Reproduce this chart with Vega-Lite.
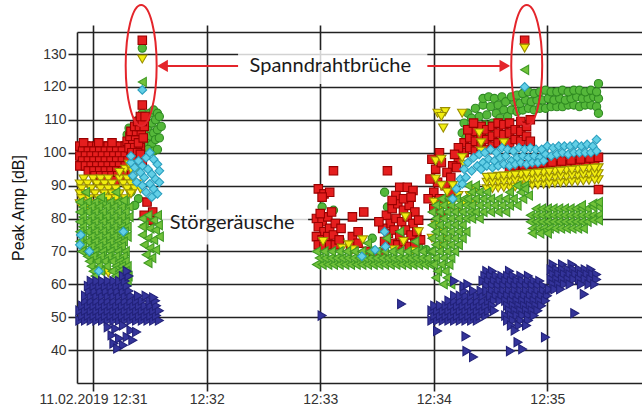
{
"$schema":"https://vega.github.io/schema/vega-lite/v6.json",
"width":565,"height":351,
"autosize":{"type":"none"},
"padding":{"left":77,"top":32,"right":0,"bottom":26},
"background":"white",
"config":{"view":{"stroke":null}},
"datasets":{
"red":[
{"t":53,"a":102},{"t":56,"a":102},{"t":59,"a":102},{"t":62,"a":102},{"t":65,"a":102},{"t":68,"a":102},{"t":71,"a":102},{"t":74,"a":102},{"t":77,"a":102},
{"t":55,"a":103},{"t":63,"a":103},{"t":70,"a":103},
{"t":54.5,"a":100.5},{"t":57.5,"a":100.5},{"t":60.5,"a":100.5},{"t":63.5,"a":100.5},{"t":66.5,"a":100.5},{"t":69.5,"a":100.5},{"t":72.5,"a":100.5},{"t":75.5,"a":100.5},
{"t":53,"a":99},{"t":56,"a":99},{"t":59,"a":99},{"t":62,"a":99},{"t":65,"a":99},{"t":68,"a":99},{"t":71,"a":99},{"t":74,"a":99},{"t":77,"a":99},{"t":80,"a":99},
{"t":54.5,"a":97.5},{"t":57.5,"a":97.5},{"t":60.5,"a":97.5},{"t":63.5,"a":97.5},{"t":66.5,"a":97.5},{"t":69.5,"a":97.5},{"t":72.5,"a":97.5},{"t":75.5,"a":97.5},{"t":78.5,"a":97.5},{"t":81.5,"a":97.5},
{"t":53,"a":96},{"t":56,"a":96},{"t":59,"a":96},{"t":62,"a":96},{"t":65,"a":96},{"t":68,"a":96},{"t":71,"a":96},{"t":74,"a":96},{"t":77,"a":96},{"t":80,"a":96},
{"t":57.5,"a":94.5},{"t":60.5,"a":94.5},{"t":63.5,"a":94.5},{"t":66.5,"a":94.5},{"t":69.5,"a":94.5},{"t":72.5,"a":94.5},{"t":75.5,"a":94.5},{"t":78.5,"a":94.5},
{"t":61,"a":93},{"t":64,"a":93},{"t":67,"a":93},{"t":70,"a":93},{"t":73,"a":93},{"t":76,"a":93},
{"t":65.5,"a":91.5},{"t":71.5,"a":91.5},
{"t":78,"a":103.5},{"t":81,"a":103.5},{"t":79.5,"a":105},{"t":82.5,"a":105},{"t":80,"a":106.5},{"t":83,"a":106.5},{"t":85.5,"a":106.5},{"t":82,"a":108},{"t":84.5,"a":108},{"t":87,"a":108},{"t":83.5,"a":109.5},{"t":86,"a":109.5},{"t":85,"a":111},{"t":87.5,"a":111},{"t":79,"a":101.5},{"t":82,"a":101.5},{"t":85,"a":101.5},{"t":80.5,"a":100},{"t":83.5,"a":100},{"t":84,"a":103},{"t":83,"a":98},{"t":85,"a":99.5},{"t":86,"a":97},{"t":86.5,"a":104.5},
{"t":86,"a":134.2},{"t":86,"a":114.5},{"t":87,"a":81},{"t":90,"a":79.5},{"t":91.5,"a":82},{"t":88.5,"a":85},
{"t":178,"a":80},{"t":181,"a":79},{"t":184,"a":80.5},{"t":179,"a":77.5},{"t":182,"a":76},{"t":185,"a":77},{"t":188,"a":78.5},{"t":178,"a":74.5},{"t":181,"a":73.5},{"t":184,"a":74.5},{"t":187,"a":75},{"t":179,"a":72},{"t":182,"a":71.5},{"t":185,"a":72},{"t":188,"a":72},{"t":190,"a":73.5},{"t":191,"a":77},{"t":180,"a":81.5},{"t":186,"a":82},
{"t":179,"a":89},{"t":182,"a":87.5},{"t":185,"a":88},{"t":181,"a":86.5},{"t":187,"a":94.5},
{"t":197,"a":80.5},{"t":203,"a":82},{"t":197,"a":74.5},{"t":200,"a":76},{"t":196,"a":71.5},{"t":205,"a":70},{"t":209,"a":69.5},{"t":213,"a":69.5},{"t":200,"a":72.5},
{"t":215,"a":81},{"t":218,"a":83},{"t":221,"a":84.5},{"t":224,"a":82.5},{"t":227,"a":84},{"t":230,"a":82},{"t":217,"a":78.5},{"t":220,"a":80},{"t":223,"a":79},{"t":226,"a":80.5},{"t":229,"a":78.5},{"t":232,"a":79.5},{"t":216,"a":75.5},{"t":219,"a":76.5},{"t":222,"a":75},{"t":225,"a":76.5},{"t":228,"a":75},{"t":231,"a":76},{"t":218,"a":72.5},{"t":221,"a":72},{"t":224,"a":73},{"t":227,"a":71.5},{"t":230,"a":72.5},{"t":233,"a":73.5},{"t":213,"a":77},{"t":214,"a":73},{"t":211,"a":79},{"t":222,"a":89.5},{"t":226,"a":89.5},{"t":229,"a":88.5},{"t":220,"a":87},{"t":224,"a":86},{"t":228,"a":86.5},{"t":218,"a":85.5},{"t":215.5,"a":94.5},
{"t":256,"a":100},{"t":256,"a":103},{"t":259,"a":101.5},{"t":259,"a":104.5},{"t":262,"a":100.5},{"t":262,"a":103.5},{"t":262,"a":106.5},{"t":265,"a":102},{"t":265,"a":105},{"t":265,"a":108},{"t":268,"a":101},{"t":268,"a":104},{"t":268,"a":107},{"t":271,"a":102},{"t":271,"a":105},{"t":271,"a":108},{"t":274,"a":103},{"t":274,"a":106},{"t":274,"a":109},{"t":277,"a":102.5},{"t":277,"a":105.5},{"t":277,"a":108.5},{"t":280,"a":103},{"t":280,"a":106},{"t":280,"a":109},{"t":283,"a":104},{"t":283,"a":107},{"t":286,"a":103.5},{"t":286,"a":106.5},{"t":286,"a":109.5},{"t":289,"a":105},{"t":289,"a":108},{"t":291,"a":110},{"t":291,"a":103.5},{"t":258,"a":107},{"t":261,"a":109},{"t":253,"a":98},{"t":253,"a":101.5},{"t":250,"a":96},{"t":251,"a":99.5},
{"t":241,"a":95},{"t":244,"a":97},{"t":247,"a":94},{"t":242,"a":91},{"t":246,"a":90},{"t":249,"a":92.5},{"t":240,"a":88},{"t":243,"a":86},{"t":246,"a":84.5},{"t":240,"a":83},{"t":244,"a":81},{"t":249,"a":88},{"t":252,"a":95.5},{"t":238,"a":92},{"t":237,"a":86},{"t":243,"a":100},{"t":239,"a":98},
{"t":288,"a":134.2},{"t":327,"a":88.8},
{"t":280,"a":94.5},{"t":285,"a":94.8},{"t":290,"a":95.1},{"t":295,"a":95.4},{"t":300,"a":95.7},{"t":305,"a":96},{"t":310,"a":96.3},{"t":315,"a":96.6},{"t":320,"a":96.9},{"t":325,"a":97.2},{"t":282.5,"a":96},{"t":287.5,"a":96.3},{"t":292.5,"a":96.6},{"t":297.5,"a":96.9},{"t":302.5,"a":97.2},{"t":307.5,"a":97.5},{"t":312.5,"a":97.8},{"t":317.5,"a":98.1},{"t":322.5,"a":98.4},{"t":327,"a":98.6}
],
"yellow":[
{"t":55,"a":92},{"t":60,"a":92},{"t":64,"a":92},{"t":68,"a":92},{"t":74,"a":92},{"t":78,"a":92},{"t":81,"a":92},
{"t":53,"a":90.5},{"t":57,"a":90.5},{"t":62,"a":90.5},{"t":66,"a":90.5},{"t":70,"a":90.5},{"t":76,"a":90.5},{"t":80,"a":90.5},{"t":83,"a":90.5},
{"t":54,"a":89},{"t":59,"a":89},{"t":64,"a":89},{"t":68,"a":89},{"t":72,"a":89},{"t":78,"a":89},{"t":82,"a":89},{"t":85,"a":89},
{"t":53,"a":87.5},{"t":56,"a":87.5},{"t":61,"a":87.5},{"t":66,"a":87.5},{"t":70,"a":87.5},{"t":74,"a":87.5},{"t":80,"a":87.5},
{"t":54,"a":86},{"t":58,"a":86},{"t":63,"a":86},{"t":68,"a":86},{"t":72,"a":86},{"t":77,"a":86},
{"t":53,"a":84.5},{"t":56,"a":84.5},{"t":60,"a":84.5},{"t":65,"a":84.5},{"t":70,"a":84.5},
{"t":58,"a":83},{"t":62,"a":83},
{"t":77,"a":95},{"t":80,"a":95},{"t":83,"a":95},{"t":79,"a":96.5},{"t":74,"a":94},
{"t":66,"a":64},{"t":68,"a":63.5},{"t":86,"a":128.5},
{"t":181.5,"a":73},{"t":202.5,"a":73.5},{"t":197,"a":70.5},{"t":191.5,"a":71},{"t":225,"a":80.5},{"t":232,"a":76},{"t":224,"a":73},{"t":195,"a":72},{"t":219,"a":70.5},{"t":229,"a":70},
{"t":242,"a":112},{"t":246,"a":112.5},{"t":255,"a":112},{"t":245,"a":107.5},{"t":244,"a":111},{"t":264,"a":106},{"t":265,"a":103},{"t":265,"a":100.5},{"t":277,"a":103},{"t":241,"a":97.5},{"t":244,"a":98},{"t":256,"a":96.5},{"t":255,"a":98.5},{"t":241,"a":92},{"t":244,"a":90},{"t":247,"a":88},{"t":250,"a":90},{"t":253,"a":87},{"t":240,"a":85},{"t":243,"a":83.5},{"t":249,"a":84},{"t":252,"a":82},{"t":256,"a":85},{"t":259,"a":87},{"t":262,"a":89},{"t":261,"a":84.5},{"t":241,"a":78},{"t":245,"a":76},{"t":239,"a":74},{"t":243,"a":71.5},{"t":247,"a":73.5},{"t":288,"a":131.8},
{"t":268,"a":89},{"t":274,"a":89.3},{"t":280,"a":89.5},{"t":286,"a":89.8},{"t":292,"a":90.1},{"t":298,"a":90.4},{"t":304,"a":90.7},{"t":310,"a":91},{"t":316,"a":91.3},{"t":322,"a":91.6},{"t":327,"a":91.8},
{"t":271,"a":89.1},{"t":277,"a":89.4},{"t":283,"a":89.6},{"t":289,"a":89.9},{"t":295,"a":90.2},{"t":301,"a":90.5},{"t":307,"a":90.8},{"t":313,"a":91.1},{"t":319,"a":91.4},{"t":325,"a":91.7},
{"t":268,"a":91},{"t":274,"a":91.1},{"t":280,"a":91.3},{"t":286,"a":91.6},{"t":292,"a":91.9},{"t":298,"a":92.2},{"t":304,"a":92.5},{"t":310,"a":92.8},{"t":316,"a":93.1},{"t":322,"a":93.4},{"t":327,"a":93.6},
{"t":271,"a":90.9},{"t":277,"a":91.2},{"t":283,"a":91.5},{"t":289,"a":91.8},{"t":295,"a":92.1},{"t":301,"a":92.4},{"t":307,"a":92.7},{"t":313,"a":93},{"t":319,"a":93.3},{"t":325,"a":93.6},
{"t":268,"a":92.5},{"t":274,"a":92.8},{"t":280,"a":93.1},{"t":286,"a":93.4},{"t":292,"a":93.7},{"t":298,"a":94},{"t":304,"a":94.3},{"t":310,"a":94.6},{"t":316,"a":94.9},{"t":322,"a":95.2},{"t":327,"a":95.4},
{"t":271,"a":92.6},{"t":277,"a":92.9},{"t":283,"a":93.2},{"t":289,"a":93.5},{"t":295,"a":93.8},{"t":301,"a":94.1},{"t":307,"a":94.4},{"t":313,"a":94.7},{"t":319,"a":95},{"t":325,"a":95.3}
],
"greenCircle":[
{"t":80,"a":104},{"t":82,"a":106},{"t":84,"a":108},{"t":86,"a":112},{"t":88,"a":110},{"t":90,"a":112},{"t":92,"a":113},{"t":94,"a":112},{"t":89,"a":108},{"t":91,"a":109},{"t":93,"a":110},{"t":95,"a":111},{"t":87,"a":106},{"t":90,"a":105},{"t":92,"a":106},{"t":94,"a":107},{"t":88,"a":103},{"t":91,"a":102.5},{"t":93,"a":104},{"t":95,"a":104.5},{"t":85,"a":103},{"t":89,"a":101},{"t":84,"a":110},{"t":92,"a":100.5},{"t":94,"a":101},{"t":78,"a":105.5},{"t":79,"a":107.5},{"t":96,"a":108},
{"t":86,"a":131.8},
{"t":70,"a":88},{"t":62,"a":83},{"t":80,"a":88},{"t":84,"a":86},{"t":66,"a":80},{"t":82,"a":84},
{"t":181,"a":83.5},{"t":187,"a":82.5},{"t":214,"a":88},{"t":215.5,"a":83.5},{"t":207.5,"a":74},{"t":190.5,"a":73.5},{"t":180,"a":79},{"t":232,"a":71.5},{"t":236,"a":70.5},
{"t":255,"a":106},{"t":256,"a":109},{"t":258,"a":112},{"t":257,"a":104.5},{"t":259,"a":107.5},{"t":260,"a":110.5},{"t":261,"a":105},{"t":262,"a":113.5},{"t":263,"a":108},{"t":264,"a":111},{"t":265,"a":105.5},{"t":266,"a":114.5},{"t":266,"a":116.5},{"t":267,"a":108.5},{"t":268,"a":111.5},{"t":269,"a":106},{"t":269,"a":117},{"t":270,"a":114},{"t":271,"a":109},{"t":272,"a":116.5},{"t":273,"a":112},{"t":274,"a":114.5},{"t":275,"a":110.5},{"t":276,"a":117},{"t":277,"a":113},{"t":278,"a":115.5},{"t":279,"a":111},
{"t":281,"a":113},{"t":284,"a":112.5},{"t":287,"a":113},{"t":290,"a":113.5},{"t":293,"a":113},{"t":296,"a":113.5},{"t":299,"a":113.5},{"t":302,"a":114},{"t":305,"a":114},{"t":308,"a":114},{"t":311,"a":114.5},{"t":314,"a":114.5},{"t":317,"a":114},{"t":320,"a":114.5},{"t":323,"a":114.5},{"t":326,"a":114},{"t":327,"a":112},
{"t":282.5,"a":115.5},{"t":285.5,"a":115},{"t":288.5,"a":116},{"t":291.5,"a":115.5},{"t":294.5,"a":116},{"t":297.5,"a":116},{"t":300.5,"a":116.5},{"t":303.5,"a":116},{"t":306.5,"a":116.5},{"t":309.5,"a":116},{"t":312.5,"a":116.5},{"t":315.5,"a":117},{"t":318.5,"a":116.5},{"t":321.5,"a":116.5},{"t":324.5,"a":117},{"t":327,"a":116.5},
{"t":281,"a":117},{"t":284,"a":117.5},{"t":287,"a":118},{"t":290,"a":118.5},{"t":293,"a":118},{"t":296,"a":118.5},{"t":299,"a":119},{"t":302,"a":118.5},{"t":305,"a":118.5},{"t":308,"a":119},{"t":311,"a":118.5},{"t":314,"a":119},{"t":317,"a":119},{"t":320,"a":118.5},{"t":323,"a":119},{"t":326,"a":118.5},{"t":327,"a":121}
],
"greenTriangle":[
{"t":53,"a":85},{"t":57,"a":85},{"t":61,"a":85},{"t":65,"a":85},{"t":69,"a":85},{"t":73,"a":85},{"t":77,"a":85},
{"t":54.5,"a":83.5},{"t":59,"a":83.5},{"t":63,"a":83.5},{"t":67,"a":83.5},{"t":71,"a":83.5},{"t":75,"a":83.5},{"t":79,"a":83.5},
{"t":53,"a":82},{"t":57,"a":82},{"t":61,"a":82},{"t":65,"a":82},{"t":69,"a":82},{"t":73,"a":82},{"t":77,"a":82},
{"t":54.5,"a":80.5},{"t":59,"a":80.5},{"t":63,"a":80.5},{"t":67,"a":80.5},{"t":71,"a":80.5},{"t":75,"a":80.5},{"t":79,"a":80.5},
{"t":53,"a":79},{"t":57,"a":79},{"t":61,"a":79},{"t":65,"a":79},{"t":69,"a":79},{"t":73,"a":79},{"t":77,"a":79},
{"t":54.5,"a":77.5},{"t":59,"a":77.5},{"t":63,"a":77.5},{"t":67,"a":77.5},{"t":71,"a":77.5},{"t":75,"a":77.5},{"t":78,"a":77.5},
{"t":53,"a":76},{"t":57,"a":76},{"t":61,"a":76},{"t":65,"a":76},{"t":69,"a":76},{"t":73,"a":76},{"t":76.5,"a":76},
{"t":54.5,"a":74.5},{"t":59,"a":74.5},{"t":63,"a":74.5},{"t":67,"a":74.5},{"t":71,"a":74.5},{"t":75,"a":74.5},{"t":78,"a":74.5},
{"t":53,"a":73},{"t":57,"a":73},{"t":61,"a":73},{"t":65,"a":73},{"t":69,"a":73},{"t":73,"a":73},{"t":76,"a":73},
{"t":54.5,"a":71.5},{"t":59,"a":71.5},{"t":63,"a":71.5},{"t":67,"a":71.5},{"t":71,"a":71.5},{"t":75,"a":71.5},
{"t":54,"a":70},{"t":57,"a":70},{"t":61,"a":70},{"t":65,"a":70},{"t":69,"a":70},{"t":73,"a":70},{"t":77,"a":70},
{"t":57,"a":68.5},{"t":60,"a":68.5},{"t":64,"a":68.5},{"t":68,"a":68.5},{"t":72,"a":68.5},{"t":76,"a":68.5},
{"t":58,"a":67},{"t":62,"a":67},{"t":66,"a":67},{"t":70,"a":67},{"t":74,"a":67},{"t":77,"a":67},
{"t":59,"a":65.5},{"t":63,"a":65.5},{"t":67,"a":65.5},{"t":72,"a":65.5},{"t":75,"a":65.5},{"t":78,"a":65.5},
{"t":60,"a":64},{"t":64,"a":64},{"t":70,"a":64},{"t":74,"a":64},{"t":77,"a":64},
{"t":61,"a":62.5},{"t":72,"a":62.5},{"t":76,"a":62.5},{"t":78.5,"a":62.5},{"t":76,"a":61},{"t":78,"a":61},
{"t":86,"a":80},{"t":89,"a":81},{"t":92,"a":79.5},{"t":94,"a":81},{"t":87,"a":78},{"t":90,"a":77},{"t":93,"a":76.5},{"t":86,"a":75},{"t":89,"a":74},{"t":92,"a":73.5},{"t":87,"a":72},{"t":90,"a":71},{"t":93,"a":70.5},{"t":88,"a":69},{"t":91,"a":68},{"t":89,"a":66.5},{"t":86,"a":77.5},{"t":94.5,"a":78},{"t":95,"a":74.5},
{"t":86,"a":121.5},{"t":56,"a":88},{"t":64,"a":86.5},{"t":72,"a":88},{"t":76,"a":85.5},
{"t":178,"a":66},{"t":181,"a":66},{"t":184,"a":66},{"t":187,"a":66},{"t":190,"a":66},{"t":193,"a":66},{"t":196,"a":66},{"t":199,"a":66},{"t":202,"a":66},{"t":205,"a":66},{"t":208,"a":66},{"t":211,"a":66},{"t":214,"a":66},{"t":217,"a":66},{"t":220,"a":66},{"t":223,"a":66},{"t":226,"a":66},{"t":229,"a":66},{"t":232,"a":66},{"t":235,"a":66},{"t":238,"a":66},
{"t":179.5,"a":68},{"t":182.5,"a":68},{"t":185.5,"a":68},{"t":188.5,"a":68},{"t":191.5,"a":68},{"t":194.5,"a":68},{"t":197.5,"a":68},{"t":200.5,"a":68},{"t":203.5,"a":68},{"t":206.5,"a":68},{"t":209.5,"a":68},{"t":212.5,"a":68},{"t":215.5,"a":68},{"t":218.5,"a":68},{"t":221.5,"a":68},{"t":224.5,"a":68},{"t":227.5,"a":68},{"t":230.5,"a":68},{"t":233.5,"a":68},{"t":236.5,"a":68},
{"t":178,"a":70},{"t":182,"a":70},{"t":186,"a":70},{"t":190,"a":70},{"t":194,"a":70},{"t":198,"a":70},{"t":202,"a":70},{"t":206,"a":70},{"t":210,"a":70},{"t":214,"a":70},{"t":218,"a":70},{"t":222,"a":70},{"t":226,"a":70},{"t":230,"a":70},{"t":234,"a":70},{"t":238,"a":70},
{"t":215,"a":74},{"t":222,"a":76},{"t":205,"a":72.5},{"t":230,"a":73},
{"t":244,"a":86},{"t":248,"a":86},{"t":252,"a":86},{"t":256,"a":86},
{"t":241,"a":84},{"t":245,"a":84},{"t":249,"a":84},{"t":253,"a":84},{"t":257,"a":84},
{"t":239,"a":82},{"t":243,"a":82},{"t":247,"a":82},{"t":251,"a":82},{"t":255,"a":82},{"t":259,"a":82},
{"t":241,"a":80},{"t":245,"a":80},{"t":249,"a":80},{"t":253,"a":80},{"t":257,"a":80},
{"t":239,"a":78},{"t":243,"a":78},{"t":247,"a":78},{"t":251,"a":78},{"t":255,"a":78},
{"t":241,"a":76},{"t":245,"a":76},{"t":249,"a":76},{"t":253,"a":76},{"t":257,"a":76},
{"t":239,"a":74},{"t":243,"a":74},{"t":247,"a":74},{"t":251,"a":74},{"t":255,"a":74},
{"t":241,"a":72},{"t":245,"a":72},{"t":249,"a":72},{"t":253,"a":72},
{"t":239,"a":70},{"t":243,"a":70},{"t":247,"a":70},{"t":251,"a":70},
{"t":241,"a":68},{"t":245,"a":68},{"t":249,"a":68},
{"t":240,"a":66},{"t":244,"a":66},{"t":248,"a":66},
{"t":242,"a":64},{"t":246,"a":64},{"t":241,"a":62},{"t":247,"a":62},{"t":245,"a":60},{"t":249,"a":60},
{"t":258,"a":90},{"t":262,"a":90},{"t":284,"a":90},{"t":288,"a":90},
{"t":260,"a":88},{"t":264,"a":88},{"t":268,"a":88},{"t":280,"a":88},{"t":286,"a":88},
{"t":258,"a":86},{"t":262,"a":86},{"t":266,"a":86},{"t":270,"a":86},{"t":274,"a":86},{"t":278,"a":86},{"t":282,"a":86},{"t":287,"a":86},
{"t":260,"a":84},{"t":264,"a":84},{"t":268,"a":84},{"t":272,"a":84},{"t":276,"a":84},{"t":280,"a":84},{"t":284,"a":84},
{"t":262,"a":82},{"t":266,"a":82},{"t":270,"a":82},{"t":274,"a":82},{"t":278,"a":82},
{"t":260,"a":80},{"t":264,"a":80},
{"t":294,"a":83},{"t":297,"a":83},{"t":300,"a":83},{"t":303,"a":83},{"t":306,"a":83},{"t":309,"a":83},{"t":312,"a":83},{"t":315,"a":83},{"t":318,"a":83},{"t":321,"a":83},{"t":324,"a":83.5},{"t":327,"a":83.5},
{"t":291,"a":81},{"t":294,"a":81},{"t":297,"a":81},{"t":300,"a":81},{"t":303,"a":81},{"t":306,"a":81},{"t":309,"a":81},{"t":312,"a":81},{"t":315,"a":81},{"t":318,"a":81},{"t":321,"a":81},{"t":324,"a":81},{"t":327,"a":81},
{"t":291,"a":79},{"t":294,"a":79},{"t":297,"a":79},{"t":300,"a":79},{"t":303,"a":79},{"t":306,"a":79},{"t":309,"a":79},{"t":312,"a":79},{"t":315,"a":79},{"t":318,"a":79},{"t":321,"a":79},{"t":324,"a":79.5},{"t":327,"a":79.5},
{"t":292,"a":77},{"t":295,"a":77},{"t":298,"a":77},{"t":301,"a":77},{"t":304,"a":77},{"t":307,"a":77},{"t":310,"a":77},{"t":313,"a":77},{"t":316,"a":77},{"t":319,"a":77},
{"t":292,"a":75.5},{"t":296,"a":75.5},{"t":300,"a":75.5},
{"t":318,"a":84},{"t":324,"a":84.5},{"t":327,"a":85},{"t":288,"a":89},{"t":290,"a":87},
{"t":288,"a":125.2}
],
"cyan":[
{"t":80,"a":97},{"t":82,"a":95.5},{"t":84,"a":97.5},{"t":86,"a":96},{"t":88,"a":98.5},{"t":90,"a":100},{"t":92,"a":98},{"t":94,"a":96.5},{"t":89,"a":95},{"t":91,"a":93.5},{"t":93,"a":92},{"t":87,"a":92.5},{"t":85,"a":94},{"t":95,"a":94.5},{"t":90,"a":90.5},{"t":92,"a":89},{"t":94,"a":87.5},{"t":88,"a":88},{"t":86,"a":90},{"t":83,"a":91},{"t":91,"a":86.5},{"t":95,"a":91},{"t":81,"a":93},{"t":80,"a":99},
{"t":86,"a":119.1},{"t":53,"a":72},{"t":76,"a":76},{"t":63,"a":64},{"t":58,"a":70},{"t":53.5,"a":75},
{"t":214,"a":76},{"t":214.5,"a":71.5},{"t":202,"a":68.5},{"t":209,"a":70.5},
{"t":252,"a":89},{"t":254,"a":92},{"t":256,"a":95},{"t":255,"a":90.5},{"t":258,"a":97},{"t":260,"a":94.5},{"t":261,"a":98.5},{"t":263,"a":96},{"t":264,"a":99.5},{"t":266,"a":97},{"t":267,"a":100},{"t":269,"a":98},{"t":270,"a":101},{"t":272,"a":97.5},{"t":273,"a":100},{"t":275,"a":98.5},{"t":276,"a":101.5},{"t":278,"a":99},{"t":279,"a":101},{"t":281,"a":97.5},{"t":282,"a":100.5},{"t":284,"a":98.5},{"t":285,"a":101.5},{"t":287,"a":99},{"t":288,"a":101},{"t":290,"a":98.5},{"t":291,"a":101.5},{"t":293,"a":99},{"t":294,"a":101},{"t":296,"a":98.5},{"t":297,"a":101},{"t":299,"a":99.5},{"t":300,"a":102},{"t":302,"a":99},{"t":303,"a":101.5},{"t":305,"a":99.5},{"t":306,"a":102},{"t":308,"a":100},{"t":309,"a":102},{"t":311,"a":99.5},{"t":312,"a":102},{"t":314,"a":100},{"t":315,"a":102.5},{"t":317,"a":100},{"t":318,"a":102},{"t":320,"a":100},{"t":321,"a":102.5},{"t":323,"a":100},{"t":324,"a":102},{"t":326,"a":100.5},{"t":326,"a":104},{"t":288,"a":120},{"t":250,"a":86},{"t":257,"a":92.5},
{"t":265,"a":95},{"t":268,"a":96},{"t":271,"a":95.5},{"t":274,"a":96},{"t":277,"a":96.5},{"t":280,"a":96},{"t":283,"a":96.5},{"t":286,"a":97},{"t":289,"a":96.5},{"t":292,"a":97},{"t":295,"a":97},{"t":298,"a":97.5}
],
"blue":[
{"t":53,"a":49},{"t":56,"a":49},{"t":59,"a":49},{"t":62,"a":49},{"t":65,"a":49},{"t":68,"a":49},{"t":71,"a":49},{"t":74,"a":49},{"t":77,"a":49},{"t":80,"a":49},{"t":83,"a":49},{"t":86,"a":49},{"t":89,"a":49},{"t":92,"a":49},{"t":95,"a":49},
{"t":54.5,"a":50.5},{"t":57.5,"a":50.5},{"t":60.5,"a":50.5},{"t":63.5,"a":50.5},{"t":66.5,"a":50.5},{"t":69.5,"a":50.5},{"t":72.5,"a":50.5},{"t":75.5,"a":50.5},{"t":78.5,"a":50.5},{"t":81.5,"a":50.5},{"t":84.5,"a":50.5},{"t":87.5,"a":50.5},{"t":90.5,"a":50.5},{"t":93.5,"a":50.5},
{"t":53,"a":52},{"t":56,"a":52},{"t":59,"a":52},{"t":62,"a":52},{"t":65,"a":52},{"t":68,"a":52},{"t":71,"a":52},{"t":74,"a":52},{"t":77,"a":52},{"t":80,"a":52},{"t":83,"a":52},{"t":86,"a":52},{"t":89,"a":52},{"t":92,"a":52},{"t":95,"a":52},
{"t":54.5,"a":53.5},{"t":57.5,"a":53.5},{"t":60.5,"a":53.5},{"t":63.5,"a":53.5},{"t":66.5,"a":53.5},{"t":69.5,"a":53.5},{"t":72.5,"a":53.5},{"t":75.5,"a":53.5},{"t":78.5,"a":53.5},{"t":81.5,"a":53.5},{"t":84.5,"a":53.5},{"t":87.5,"a":53.5},{"t":90.5,"a":53.5},{"t":93.5,"a":53.5},
{"t":56,"a":55},{"t":59,"a":55},{"t":62,"a":55},{"t":65,"a":55},{"t":68,"a":55},{"t":71,"a":55},{"t":74,"a":55},{"t":77,"a":55},{"t":80,"a":55},{"t":83,"a":55},{"t":86,"a":55},{"t":90,"a":55},{"t":93,"a":55},
{"t":56,"a":56.5},{"t":59,"a":56.5},{"t":62,"a":56.5},{"t":65,"a":56.5},{"t":68,"a":56.5},{"t":71,"a":56.5},{"t":74,"a":56.5},{"t":77,"a":56.5},{"t":80,"a":56.5},{"t":84,"a":56.5},{"t":88,"a":56.5},{"t":92,"a":56},
{"t":58,"a":58},{"t":61,"a":58},{"t":64,"a":58},{"t":67,"a":58},{"t":70,"a":58},{"t":73,"a":58},{"t":76,"a":58},{"t":79,"a":58},
{"t":57.5,"a":59.5},{"t":60.5,"a":59.5},{"t":63.5,"a":59.5},{"t":66.5,"a":59.5},{"t":69.5,"a":59.5},{"t":72.5,"a":59.5},{"t":75.5,"a":59.5},{"t":78,"a":59.5},
{"t":59,"a":61},{"t":62,"a":61},{"t":65,"a":61},{"t":68,"a":61},{"t":71,"a":61},{"t":74,"a":61},{"t":77,"a":61},
{"t":76,"a":62.5},{"t":79,"a":62.5},{"t":78,"a":64},
{"t":68,"a":47},{"t":72,"a":46.5},{"t":76,"a":47.5},{"t":80,"a":46},{"t":70,"a":44.5},{"t":74,"a":43.5},{"t":78,"a":44},{"t":83,"a":45.5},{"t":71,"a":42},{"t":76,"a":41.5},{"t":81,"a":43},{"t":73,"a":40.5},
{"t":181,"a":50.5},{"t":223,"a":54},
{"t":239,"a":49},{"t":242,"a":49},{"t":245,"a":49},{"t":248,"a":49},{"t":251,"a":49},{"t":254,"a":49},{"t":257,"a":49},{"t":260,"a":49},{"t":263,"a":49},
{"t":240.5,"a":50.5},{"t":243.5,"a":50.5},{"t":246.5,"a":50.5},{"t":249.5,"a":50.5},{"t":252.5,"a":50.5},{"t":255.5,"a":50.5},{"t":258.5,"a":50.5},{"t":261.5,"a":50.5},{"t":264.5,"a":50.5},{"t":267.5,"a":50.5},
{"t":239,"a":52},{"t":242,"a":52},{"t":245,"a":52},{"t":248,"a":52},{"t":251,"a":52},{"t":254,"a":52},{"t":257,"a":52},{"t":260,"a":52},{"t":263,"a":52},{"t":266,"a":52},{"t":269,"a":52},
{"t":240.5,"a":53.5},{"t":243.5,"a":53.5},{"t":246.5,"a":53.5},{"t":249.5,"a":53.5},{"t":252.5,"a":53.5},{"t":255.5,"a":53.5},{"t":258.5,"a":53.5},{"t":261.5,"a":53.5},{"t":264.5,"a":53.5},{"t":267.5,"a":53.5},
{"t":248,"a":55},{"t":251,"a":55},{"t":254,"a":55},{"t":257,"a":55},{"t":260,"a":55},{"t":263,"a":55},{"t":266,"a":55},{"t":269,"a":55},
{"t":251,"a":56.5},{"t":254,"a":56.5},{"t":257,"a":56.5},{"t":260,"a":56.5},{"t":263,"a":56.5},{"t":266,"a":56.5},
{"t":256,"a":58},{"t":261,"a":58},{"t":265,"a":58},
{"t":268,"a":64},{"t":271,"a":64},{"t":280,"a":64},
{"t":267,"a":62.5},{"t":270,"a":62.5},{"t":273,"a":62.5},{"t":276,"a":62.5},{"t":279,"a":62.5},{"t":282,"a":62.5},{"t":286,"a":62.5},{"t":290,"a":62.5},
{"t":266,"a":61},{"t":269,"a":61},{"t":272,"a":61},{"t":275,"a":61},{"t":278,"a":61},{"t":281,"a":61},{"t":284,"a":61},{"t":287,"a":61},{"t":290,"a":61},{"t":293,"a":61},{"t":296,"a":61},
{"t":268,"a":59.5},{"t":271,"a":59.5},{"t":274,"a":59.5},{"t":277,"a":59.5},{"t":280,"a":59.5},{"t":283,"a":59.5},{"t":286,"a":59.5},{"t":289,"a":59.5},{"t":292,"a":59.5},{"t":295,"a":59.5},{"t":298,"a":59.5},
{"t":268,"a":58},{"t":271,"a":58},{"t":274,"a":58},{"t":277,"a":58},{"t":280,"a":58},{"t":283,"a":58},{"t":286,"a":58},{"t":289,"a":58},{"t":292,"a":58},{"t":295,"a":58},{"t":298,"a":58},{"t":301,"a":58},
{"t":270,"a":56.5},{"t":273,"a":56.5},{"t":276,"a":56.5},{"t":279,"a":56.5},{"t":282,"a":56.5},{"t":285,"a":56.5},{"t":288,"a":56.5},{"t":291,"a":56.5},{"t":294,"a":56.5},{"t":297,"a":56.5},{"t":300,"a":56.5},
{"t":272,"a":55},{"t":275,"a":55},{"t":278,"a":55},{"t":281,"a":55},{"t":284,"a":55},{"t":287,"a":55},{"t":290,"a":55},{"t":293,"a":55},{"t":296,"a":55},{"t":299,"a":55},
{"t":271,"a":53.5},{"t":279,"a":53.5},{"t":282,"a":53.5},{"t":285,"a":53.5},{"t":288,"a":53.5},{"t":291,"a":53.5},{"t":294,"a":53.5},{"t":297,"a":53.5},
{"t":272,"a":52},{"t":280,"a":52},{"t":283,"a":52},{"t":286,"a":52},{"t":289,"a":52},{"t":292,"a":52},{"t":295,"a":52},
{"t":278,"a":50.5},{"t":281,"a":50.5},{"t":284,"a":50.5},{"t":287,"a":50.5},{"t":290,"a":50.5},{"t":293,"a":50.5},
{"t":279,"a":49},{"t":282,"a":49},{"t":286,"a":49},{"t":290,"a":49},{"t":281,"a":47.5},{"t":285,"a":47.5},{"t":289,"a":47.5},{"t":283,"a":46},
{"t":303,"a":66},{"t":308,"a":66},{"t":313,"a":66},
{"t":302,"a":64.5},{"t":305,"a":64.5},{"t":308,"a":64.5},{"t":311,"a":64.5},{"t":314,"a":64.5},{"t":317,"a":64.5},{"t":320,"a":64.5},{"t":323,"a":64.5},
{"t":303,"a":63},{"t":306,"a":63},{"t":309,"a":63},{"t":312,"a":63},{"t":315,"a":63},{"t":318,"a":63},{"t":321,"a":63},{"t":324,"a":63},{"t":326,"a":63},
{"t":302,"a":61.5},{"t":305,"a":61.5},{"t":308,"a":61.5},{"t":311,"a":61.5},{"t":314,"a":61.5},{"t":317,"a":61.5},{"t":320,"a":61.5},{"t":323,"a":61.5},{"t":326,"a":61.5},
{"t":303,"a":60},{"t":306,"a":60},{"t":309,"a":60},{"t":312,"a":60},{"t":318,"a":60},{"t":322,"a":60},{"t":325,"a":60},
{"t":301,"a":58.5},{"t":304,"a":58.5},{"t":307,"a":58.5},
{"t":242,"a":45.8},{"t":257,"a":44.2},{"t":257.5,"a":39.7},{"t":261,"a":37.9},{"t":280.5,"a":39.7},{"t":284.5,"a":42.4},{"t":287,"a":40.3},{"t":299,"a":43.9},{"t":314.5,"a":51.2},{"t":319.5,"a":57},{"t":256,"a":59.4},{"t":251,"a":61},{"t":258,"a":60}
]
},
"encoding":{
"x":{"field":"t","type":"quantitative","scale":{"domain":[51.5,350],"nice":false,"zero":false},"axis":null},
"y":{"field":"a","type":"quantitative","scale":{"domain":[30,136.7],"nice":false,"zero":false},
"axis":{"values":[40,50,60,70,80,90,100,110,120,130],"grid":true,"gridColor":"#222","gridWidth":1.6,"tickSize":9,"tickColor":"#222","tickWidth":1.6,"domainColor":"#222","domainWidth":1.6,
"labelFont":"Liberation Sans","labelFontSize":14,"labelColor":"#333","labelPadding":2,
"title":"Peak Amp [dB]","titleFont":"Liberation Sans","titleFontSize":16,"titleFontWeight":"normal","titleColor":"#111","titlePadding":16}}
},
"resolve":{"axis":{"x":"independent"}},
"layer":[
{"data":{"values":[{"t":136.6,"t2":236.6,"a":131.2,"a2":120.9},{"t":93.8,"t2":173.6,"a":82.7,"a2":72.1}]},
"mark":{"type":"rect","fill":"white","opacity":0.8},
"encoding":{"x2":{"field":"t2"},"y2":{"field":"a2"}}},
{"data":{"name":"greenCircle"},
"mark":{"type":"point","shape":"circle","filled":true,"fill":"#55b83a","stroke":"#2f8a22","strokeWidth":1.1,"size":68,"opacity":1},
"encoding":{"x":{"field":"t","type":"quantitative","scale":{"domain":[51.5,350],"nice":false,"zero":false},
"axis":{"orient":"bottom","values":[60,120,180,240,300],"labelExpr":"datum.value == 60 ? '11.02.2019 12:31' : '12:' + format(30 + datum.value / 60, '02')","grid":true,"gridColor":"#222","gridWidth":1.6,"tickSize":8,"tickColor":"#222","tickWidth":1.6,"domainColor":"#222","domainWidth":1.6,"labelFont":"Liberation Sans","labelFontSize":14,"labelColor":"#333","labelPadding":1,"labelFlush":false,"labelOverlap":false,"title":null}}}},
{"data":{"name":"red"},
"mark":{"type":"point","shape":"square","filled":true,"fill":"#e51e1e","stroke":"#990000","strokeWidth":1.1,"size":72,"opacity":1},
"encoding":{"x":{"field":"t","type":"quantitative","scale":{"domain":[51.5,350],"nice":false,"zero":false},
"axis":{"orient":"top","values":[60,120,180,240,300],"labels":false,"grid":false,"tickSize":7,"tickColor":"#222","tickWidth":1.6,"domainColor":"#222","domainWidth":1.6,"title":null}}}},
{"data":{"name":"yellow"},
"mark":{"type":"point","shape":"triangle-down","filled":true,"fill":"#f2ee10","stroke":"#9a8f00","strokeWidth":1.1,"size":85,"opacity":1}},
{"data":{"name":"greenTriangle"},
"mark":{"type":"point","shape":"triangle-left","filled":true,"fill":"#72c23a","stroke":"#3f9a24","strokeWidth":1.1,"size":85,"opacity":1}},
{"data":{"name":"cyan"},
"mark":{"type":"point","shape":"diamond","filled":true,"fill":"#62cfe6","stroke":"#2a9fbf","strokeWidth":1.1,"size":76,"opacity":1}},
{"data":{"name":"blue"},
"mark":{"type":"point","shape":"triangle-right","filled":true,"fill":"#34349a","stroke":"#22227a","strokeWidth":1.1,"size":85,"opacity":1}},
{"data":{"values":[{"t":85.4,"a":126.5},{"t":289.1,"a":126.5}]},
"mark":{"type":"point","shape":"M0,-1C0.141,-1,0.256,-0.552,0.256,0C0.256,0.552,0.141,1,0,1C-0.141,1,-0.256,0.552,-0.256,0C-0.256,-0.552,-0.141,-1,0,-1Z","filled":false,"stroke":"#e4252b","strokeWidth":2,"size":14641,"opacity":1}},
{"data":{"values":[{"t":97,"t2":136.6,"a":126.4},{"t":236.6,"t2":276,"a":126.4}]},
"mark":{"type":"rule","color":"#e4252b","strokeWidth":2},
"encoding":{"x2":{"field":"t2"}}},
{"data":{"values":[{"t":96.7,"a":126.4,"dir":"left"},{"t":277.5,"a":126.4,"dir":"right"}]},
"mark":{"type":"point","filled":true,"color":"#e4252b","size":150,"opacity":1},
"encoding":{"shape":{"field":"dir","type":"nominal","scale":{"domain":["left","right"],"range":["triangle-left","triangle-right"]},"legend":null}}},
{"data":{"values":[{"t":185.3,"a":126.4,"label":"Spanndrahtbrüche"},{"t":133.5,"a":78.5,"label":"Störgeräusche"}]},
"mark":{"type":"text","font":"Lato","fontSize":20,"color":"#1a1a1a","align":"center","baseline":"middle"},
"encoding":{"text":{"field":"label"}}}
]
}
